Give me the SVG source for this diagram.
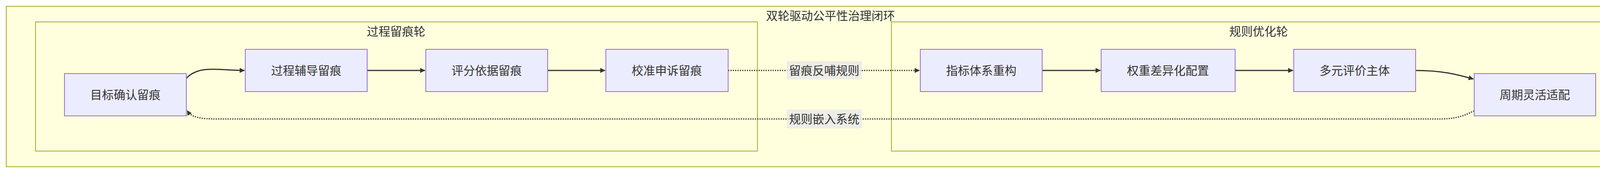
<svg xmlns="http://www.w3.org/2000/svg" width="4252" height="442" viewBox="0 0 4252 442">
<style>
.cl{fill:#ffffde;stroke:#aaaa33;stroke-width:2}
.nd rect{fill:#ececff;stroke:#9370db;stroke-width:2}
text{font-family:"Liberation Sans","Noto Sans CJK SC",sans-serif;font-size:30px;fill:#333;text-anchor:middle;dominant-baseline:central}
.e{fill:none;stroke:#333;stroke-width:3}
.d{fill:none;stroke:#333;stroke-width:3;stroke-dasharray:3 3}
.lb{fill:#e8e8e8;opacity:0.8}
</style>
<defs><marker id="a" viewBox="0 0 10 10" refX="9" refY="5" markerWidth="8" markerHeight="8" markerUnits="userSpaceOnUse" orient="auto" style="overflow:visible"><path d="M0,0L10,5L0,10z" fill="#333" transform="scale(1.6) translate(-4,-1.9)"/></marker></defs>
<g id="outer"><rect class="cl" x="16" y="16" width="4220" height="410"/><text x="2126" y="40">双轮驱动公平性治理闭环</text></g>
<g id="wheel1"><rect class="cl" x="91" y="56" width="1848" height="330"/><text x="1014" y="80">过程留痕轮</text></g>
<g id="wheel2"><rect class="cl" x="2282" y="56" width="1878" height="330"/><text x="3222" y="80">规则优化轮</text></g>
<g id="edges">
<path class="e" d="M477,200 C510,165 560,180 626,180" marker-end="url(#a)"/>
<path class="e" d="M940,180 L1088,180" marker-end="url(#a)"/>
<path class="e" d="M1402,180 L1549,180" marker-end="url(#a)"/>
<path class="d" d="M1864,180 L2354,180" marker-end="url(#a)"/>
<path class="e" d="M2668,180 L2817,180" marker-end="url(#a)"/>
<path class="e" d="M3162,180 L3310,180" marker-end="url(#a)"/>
<path class="e" d="M3624,180 C3690,180 3730,190 3772,202" marker-end="url(#a)"/>
<path class="d" d="M3774,283 C3740,300 3720,304 3680,304 L560,304 C510,304 490,300 479,282" marker-end="url(#a)"/>
<rect class="lb" x="2014" y="156" width="192" height="47"/><text x="2110" y="180">留痕反哺规则</text>
<rect class="lb" x="2014" y="280" width="192" height="48"/><text x="2110" y="304">规则嵌入系统</text>
</g>
<g id="n1" class="nd"><rect x="165" y="188" width="312" height="108"/><text x="321" y="242">目标确认留痕</text></g>
<g id="n2" class="nd"><rect x="628" y="126" width="312" height="108"/><text x="784" y="180">过程辅导留痕</text></g>
<g id="n3" class="nd"><rect x="1090" y="126" width="312" height="108"/><text x="1246" y="180">评分依据留痕</text></g>
<g id="n4" class="nd"><rect x="1551" y="126" width="313" height="108"/><text x="1707" y="180">校准申诉留痕</text></g>
<g id="n5" class="nd"><rect x="2356" y="126" width="312" height="108"/><text x="2512" y="180">指标体系重构</text></g>
<g id="n6" class="nd"><rect x="2819" y="126" width="343" height="108"/><text x="2990" y="180">权重差异化配置</text></g>
<g id="n7" class="nd"><rect x="3312" y="126" width="312" height="108"/><text x="3468" y="180">多元评价主体</text></g>
<g id="n8" class="nd"><rect x="3774" y="188" width="311" height="108"/><text x="3929" y="242">周期灵活适配</text></g>
</svg>
